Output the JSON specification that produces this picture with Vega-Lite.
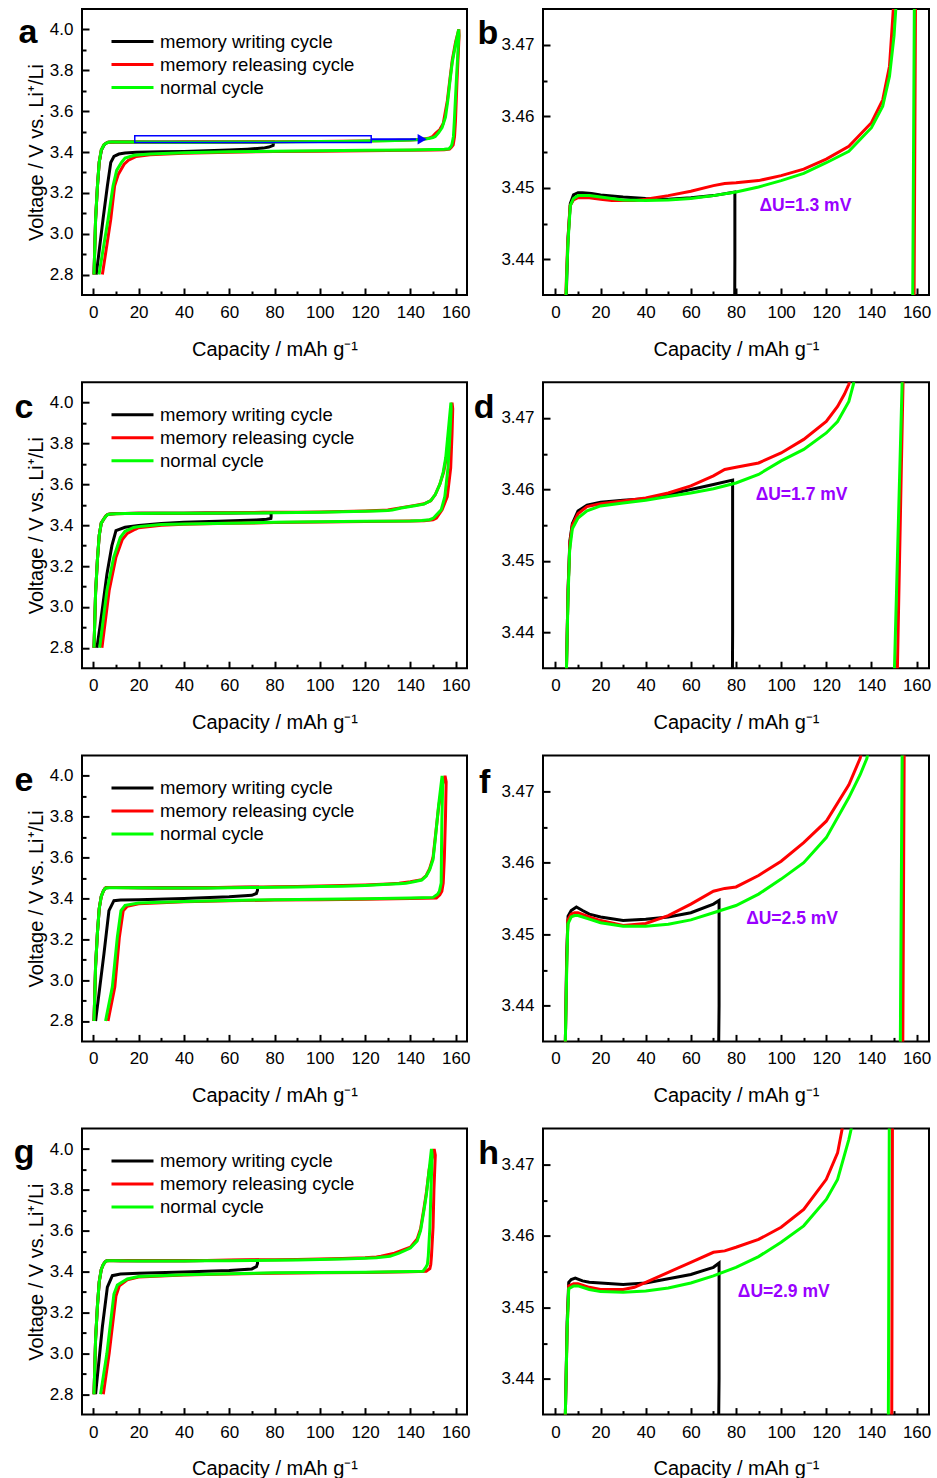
{
"$schema": "https://vega.github.io/schema/vega-lite/v6.json",
"padding": {"left": 12, "top": 8, "right": 5, "bottom": 2},
"config": {
 "font": "Liberation Sans",
 "view": {"stroke": "black", "strokeWidth": 2},
 "axis": {"domain": false, "grid": false, "tickSize": -7, "tickWidth": 2, "tickColor": "black", "labelFontSize": 17, "labelColor": "black", "labelFont": "Liberation Sans", "titleFont": "Liberation Sans", "titleFontSize": 20, "titleFontWeight": "normal", "titleColor": "black", "labelFlush": false, "labelOverlap": false},
 "axisX": {"labelPadding": 16.5, "titlePadding": 18.6},
 "axisY": {"labelPadding": 16, "titlePadding": 3},
 "legend": {"orient": "none", "legendX": 28, "legendY": 22.5, "title": null, "symbolType": "stroke", "symbolSize": 1764, "symbolStrokeWidth": 3, "labelFontSize": 18.5, "labelFont": "Liberation Sans", "labelColor": "black", "labelOffset": 5, "clipHeight": 20, "rowPadding": 3, "labelLimit": 0, "padding": 0}
},
"datasets": {
 "r1": [
  {"cyc":"W","cap":0.3,"v":2.8},{"cyc":"W","cap":1.0,"v":3.07},{"cyc":"W","cap":1.8,"v":3.23},{"cyc":"W","cap":2.6,"v":3.35},{"cyc":"W","cap":3.6,"v":3.41},{"cyc":"W","cap":4.8,"v":3.435},{"cyc":"W","cap":5.6,"v":3.443},{"cyc":"W","cap":6.6,"v":3.4478},{"cyc":"W","cap":8,"v":3.449},{"cyc":"W","cap":10,"v":3.4493},{"cyc":"W","cap":12,"v":3.4493},{"cyc":"W","cap":16,"v":3.4492},{"cyc":"W","cap":20,"v":3.449},{"cyc":"W","cap":30,"v":3.4487},{"cyc":"W","cap":40,"v":3.4485},{"cyc":"W","cap":50,"v":3.4484},{"cyc":"W","cap":60,"v":3.4486},{"cyc":"W","cap":70,"v":3.4489},{"cyc":"W","cap":79.5,"v":3.4494},
  {"cyc":"W","cap":79.5,"v":3.44},{"cyc":"W","cap":79.4,"v":3.432},{"cyc":"W","cap":77.5,"v":3.424},{"cyc":"W","cap":75,"v":3.419},{"cyc":"W","cap":68,"v":3.414},{"cyc":"W","cap":60,"v":3.41},{"cyc":"W","cap":50,"v":3.406},{"cyc":"W","cap":40,"v":3.4025},{"cyc":"W","cap":30,"v":3.401},{"cyc":"W","cap":19,"v":3.399},{"cyc":"W","cap":14,"v":3.395},{"cyc":"W","cap":11.3,"v":3.39},{"cyc":"W","cap":9.1,"v":3.378},{"cyc":"W","cap":7.7,"v":3.349},{"cyc":"W","cap":6.2,"v":3.234},{"cyc":"W","cap":4.3,"v":3.072},{"cyc":"W","cap":1.3,"v":2.8},
  {"cyc":"R","cap":0.3,"v":2.8},{"cyc":"R","cap":1.0,"v":3.07},{"cyc":"R","cap":1.8,"v":3.23},{"cyc":"R","cap":2.6,"v":3.35},{"cyc":"R","cap":3.5,"v":3.41},{"cyc":"R","cap":4.6,"v":3.435},{"cyc":"R","cap":5.4,"v":3.442},{"cyc":"R","cap":6.5,"v":3.4475},{"cyc":"R","cap":8,"v":3.4483},{"cyc":"R","cap":10,"v":3.4486},{"cyc":"R","cap":15,"v":3.4486},{"cyc":"R","cap":20,"v":3.4484},{"cyc":"R","cap":25,"v":3.4482},{"cyc":"R","cap":35,"v":3.4482},{"cyc":"R","cap":40,"v":3.4484},{"cyc":"R","cap":50,"v":3.4489},{"cyc":"R","cap":60,"v":3.4495},{"cyc":"R","cap":70,"v":3.4503},{"cyc":"R","cap":75,"v":3.4506},{"cyc":"R","cap":80,"v":3.4507},{"cyc":"R","cap":90,"v":3.451},{"cyc":"R","cap":100,"v":3.4517},{"cyc":"R","cap":110,"v":3.4526},{"cyc":"R","cap":120,"v":3.454},{"cyc":"R","cap":130,"v":3.4558},{"cyc":"R","cap":140,"v":3.4591},{"cyc":"R","cap":145,"v":3.4623},{"cyc":"R","cap":148,"v":3.467},{"cyc":"R","cap":149.7,"v":3.475},{"cyc":"R","cap":151,"v":3.49},{"cyc":"R","cap":153,"v":3.51},{"cyc":"R","cap":154.5,"v":3.54},{"cyc":"R","cap":156.3,"v":3.65},{"cyc":"R","cap":157.5,"v":3.76},{"cyc":"R","cap":158.5,"v":3.85},{"cyc":"R","cap":160,"v":3.94},{"cyc":"R","cap":161.4,"v":4.0},
  {"cyc":"R","cap":161.5,"v":3.97},{"cyc":"R","cap":160.6,"v":3.75},{"cyc":"R","cap":159.9,"v":3.55},{"cyc":"R","cap":159.5,"v":3.475},{"cyc":"R","cap":158.9,"v":3.435},{"cyc":"R","cap":158.2,"v":3.424},{"cyc":"R","cap":157.3,"v":3.414},{"cyc":"R","cap":155,"v":3.411},{"cyc":"R","cap":150,"v":3.41},{"cyc":"R","cap":140,"v":3.408},{"cyc":"R","cap":120,"v":3.406},{"cyc":"R","cap":100,"v":3.404},{"cyc":"R","cap":80,"v":3.402},{"cyc":"R","cap":60,"v":3.399},{"cyc":"R","cap":40,"v":3.394},{"cyc":"R","cap":25,"v":3.386},{"cyc":"R","cap":19,"v":3.378},{"cyc":"R","cap":15.5,"v":3.36},{"cyc":"R","cap":13.6,"v":3.34},{"cyc":"R","cap":11,"v":3.29},{"cyc":"R","cap":9.4,"v":3.234},{"cyc":"R","cap":7.7,"v":3.07},{"cyc":"R","cap":4,"v":2.8},
  {"cyc":"N","cap":0.3,"v":2.8},{"cyc":"N","cap":1.0,"v":3.07},{"cyc":"N","cap":1.8,"v":3.23},{"cyc":"N","cap":2.6,"v":3.35},{"cyc":"N","cap":3.5,"v":3.41},{"cyc":"N","cap":4.7,"v":3.435},{"cyc":"N","cap":5.5,"v":3.442},{"cyc":"N","cap":6.6,"v":3.4475},{"cyc":"N","cap":8,"v":3.4485},{"cyc":"N","cap":10,"v":3.4489},{"cyc":"N","cap":15,"v":3.4489},{"cyc":"N","cap":20,"v":3.4487},{"cyc":"N","cap":30,"v":3.4483},{"cyc":"N","cap":40,"v":3.4482},{"cyc":"N","cap":50,"v":3.4483},{"cyc":"N","cap":60,"v":3.4485},{"cyc":"N","cap":70,"v":3.4489},{"cyc":"N","cap":80,"v":3.4494},{"cyc":"N","cap":90,"v":3.4501},{"cyc":"N","cap":100,"v":3.451},{"cyc":"N","cap":110,"v":3.452},{"cyc":"N","cap":120,"v":3.4535},{"cyc":"N","cap":130,"v":3.4551},{"cyc":"N","cap":140,"v":3.4584},{"cyc":"N","cap":145,"v":3.4614},{"cyc":"N","cap":148,"v":3.4656},{"cyc":"N","cap":150,"v":3.4712},{"cyc":"N","cap":151,"v":3.476},{"cyc":"N","cap":152.5,"v":3.495},{"cyc":"N","cap":154,"v":3.52},{"cyc":"N","cap":155.5,"v":3.57},{"cyc":"N","cap":156.5,"v":3.65},{"cyc":"N","cap":157.5,"v":3.75},{"cyc":"N","cap":158.5,"v":3.84},{"cyc":"N","cap":160,"v":3.93},{"cyc":"N","cap":161.3,"v":4.0},
  {"cyc":"N","cap":161.4,"v":3.97},{"cyc":"N","cap":160.3,"v":3.75},{"cyc":"N","cap":159.4,"v":3.55},{"cyc":"N","cap":159,"v":3.475},{"cyc":"N","cap":158.3,"v":3.435},{"cyc":"N","cap":157.8,"v":3.425},{"cyc":"N","cap":157,"v":3.416},{"cyc":"N","cap":155,"v":3.413},{"cyc":"N","cap":150,"v":3.412},{"cyc":"N","cap":140,"v":3.41},{"cyc":"N","cap":120,"v":3.408},{"cyc":"N","cap":100,"v":3.406},{"cyc":"N","cap":80,"v":3.404},{"cyc":"N","cap":60,"v":3.401},{"cyc":"N","cap":40,"v":3.396},{"cyc":"N","cap":25,"v":3.39},{"cyc":"N","cap":18,"v":3.384},{"cyc":"N","cap":14,"v":3.37},{"cyc":"N","cap":12.5,"v":3.35},{"cyc":"N","cap":10.3,"v":3.31},{"cyc":"N","cap":8.7,"v":3.234},{"cyc":"N","cap":6.5,"v":3.07},{"cyc":"N","cap":2.5,"v":2.8}
 ],
 "r2": [
  {"cyc":"W","cap":0.3,"v":2.8},{"cyc":"W","cap":1.0,"v":3.07},{"cyc":"W","cap":1.8,"v":3.23},{"cyc":"W","cap":2.6,"v":3.35},{"cyc":"W","cap":3.5,"v":3.41},{"cyc":"W","cap":4.9,"v":3.435},{"cyc":"W","cap":5.6,"v":3.446},{"cyc":"W","cap":6.4,"v":3.4528},{"cyc":"W","cap":7.5,"v":3.4552},{"cyc":"W","cap":10,"v":3.457},{"cyc":"W","cap":14,"v":3.4578},{"cyc":"W","cap":20,"v":3.4582},{"cyc":"W","cap":30,"v":3.4585},{"cyc":"W","cap":40,"v":3.4587},{"cyc":"W","cap":50,"v":3.4593},{"cyc":"W","cap":60,"v":3.46},{"cyc":"W","cap":70,"v":3.4607},{"cyc":"W","cap":78.5,"v":3.4613},
  {"cyc":"W","cap":78.5,"v":3.44},{"cyc":"W","cap":78.4,"v":3.433},{"cyc":"W","cap":76.5,"v":3.429},{"cyc":"W","cap":72,"v":3.426},{"cyc":"W","cap":65,"v":3.423},{"cyc":"W","cap":55,"v":3.419},{"cyc":"W","cap":40,"v":3.414},{"cyc":"W","cap":30,"v":3.408},{"cyc":"W","cap":20,"v":3.398},{"cyc":"W","cap":14,"v":3.39},{"cyc":"W","cap":10,"v":3.373},{"cyc":"W","cap":8.2,"v":3.3},{"cyc":"W","cap":6,"v":3.16},{"cyc":"W","cap":3.1,"v":2.917},{"cyc":"W","cap":1.6,"v":2.8},
  {"cyc":"R","cap":0.3,"v":2.8},{"cyc":"R","cap":1.0,"v":3.07},{"cyc":"R","cap":1.8,"v":3.23},{"cyc":"R","cap":2.6,"v":3.35},{"cyc":"R","cap":3.5,"v":3.41},{"cyc":"R","cap":4.9,"v":3.435},{"cyc":"R","cap":5.6,"v":3.446},{"cyc":"R","cap":6.4,"v":3.4525},{"cyc":"R","cap":7.5,"v":3.455},{"cyc":"R","cap":10,"v":3.4566},{"cyc":"R","cap":14,"v":3.4576},{"cyc":"R","cap":20,"v":3.458},{"cyc":"R","cap":30,"v":3.4584},{"cyc":"R","cap":40,"v":3.4588},{"cyc":"R","cap":50,"v":3.4595},{"cyc":"R","cap":60,"v":3.4605},{"cyc":"R","cap":70,"v":3.4619},{"cyc":"R","cap":75,"v":3.4628},{"cyc":"R","cap":80,"v":3.4631},{"cyc":"R","cap":90,"v":3.4637},{"cyc":"R","cap":100,"v":3.4651},{"cyc":"R","cap":110,"v":3.467},{"cyc":"R","cap":120,"v":3.4695},{"cyc":"R","cap":125,"v":3.4716},{"cyc":"R","cap":128,"v":3.4733},{"cyc":"R","cap":130,"v":3.4747},{"cyc":"R","cap":136,"v":3.486},{"cyc":"R","cap":142,"v":3.497},{"cyc":"R","cap":146,"v":3.505},{"cyc":"R","cap":149,"v":3.52},{"cyc":"R","cap":151,"v":3.55},{"cyc":"R","cap":153,"v":3.6},{"cyc":"R","cap":154.7,"v":3.66},{"cyc":"R","cap":156,"v":3.74},{"cyc":"R","cap":157.4,"v":3.9},{"cyc":"R","cap":158.4,"v":4.0},
  {"cyc":"R","cap":158.7,"v":3.97},{"cyc":"R","cap":158.4,"v":3.85},{"cyc":"R","cap":157.8,"v":3.68},{"cyc":"R","cap":156.3,"v":3.54},{"cyc":"R","cap":154,"v":3.475},{"cyc":"R","cap":151.5,"v":3.435},{"cyc":"R","cap":150,"v":3.427},{"cyc":"R","cap":146,"v":3.422},{"cyc":"R","cap":140,"v":3.42},{"cyc":"R","cap":120,"v":3.418},{"cyc":"R","cap":100,"v":3.416},{"cyc":"R","cap":80,"v":3.413},{"cyc":"R","cap":60,"v":3.409},{"cyc":"R","cap":40,"v":3.405},{"cyc":"R","cap":30,"v":3.4},{"cyc":"R","cap":20,"v":3.388},{"cyc":"R","cap":18.5,"v":3.38},{"cyc":"R","cap":15,"v":3.36},{"cyc":"R","cap":12.8,"v":3.33},{"cyc":"R","cap":10,"v":3.243},{"cyc":"R","cap":7,"v":3.08},{"cyc":"R","cap":3.8,"v":2.8},
  {"cyc":"N","cap":0.3,"v":2.8},{"cyc":"N","cap":1.0,"v":3.07},{"cyc":"N","cap":1.8,"v":3.23},{"cyc":"N","cap":2.6,"v":3.35},{"cyc":"N","cap":3.5,"v":3.41},{"cyc":"N","cap":4.9,"v":3.435},{"cyc":"N","cap":5.6,"v":3.445},{"cyc":"N","cap":6.3,"v":3.4515},{"cyc":"N","cap":7.5,"v":3.4545},{"cyc":"N","cap":10,"v":3.456},{"cyc":"N","cap":14,"v":3.457},{"cyc":"N","cap":20,"v":3.4577},{"cyc":"N","cap":30,"v":3.4581},{"cyc":"N","cap":40,"v":3.4585},{"cyc":"N","cap":50,"v":3.459},{"cyc":"N","cap":60,"v":3.4595},{"cyc":"N","cap":70,"v":3.4601},{"cyc":"N","cap":80,"v":3.4609},{"cyc":"N","cap":90,"v":3.4621},{"cyc":"N","cap":100,"v":3.464},{"cyc":"N","cap":110,"v":3.4656},{"cyc":"N","cap":120,"v":3.4679},{"cyc":"N","cap":125,"v":3.4695},{"cyc":"N","cap":130,"v":3.4723},{"cyc":"N","cap":132,"v":3.4747},{"cyc":"N","cap":136,"v":3.484},{"cyc":"N","cap":142,"v":3.495},{"cyc":"N","cap":146,"v":3.503},{"cyc":"N","cap":149,"v":3.52},{"cyc":"N","cap":151,"v":3.55},{"cyc":"N","cap":153,"v":3.6},{"cyc":"N","cap":154.5,"v":3.66},{"cyc":"N","cap":155.6,"v":3.73},{"cyc":"N","cap":157,"v":3.894},{"cyc":"N","cap":157.9,"v":4.0},
  {"cyc":"N","cap":158,"v":3.97},{"cyc":"N","cap":157.5,"v":3.85},{"cyc":"N","cap":156.6,"v":3.68},{"cyc":"N","cap":155.2,"v":3.54},{"cyc":"N","cap":153.6,"v":3.475},{"cyc":"N","cap":150.2,"v":3.435},{"cyc":"N","cap":148.5,"v":3.427},{"cyc":"N","cap":145,"v":3.423},{"cyc":"N","cap":140,"v":3.421},{"cyc":"N","cap":120,"v":3.419},{"cyc":"N","cap":100,"v":3.417},{"cyc":"N","cap":80,"v":3.414},{"cyc":"N","cap":60,"v":3.41},{"cyc":"N","cap":40,"v":3.406},{"cyc":"N","cap":30,"v":3.403},{"cyc":"N","cap":20,"v":3.393},{"cyc":"N","cap":17.8,"v":3.389},{"cyc":"N","cap":14,"v":3.37},{"cyc":"N","cap":11.9,"v":3.34},{"cyc":"N","cap":9,"v":3.243},{"cyc":"N","cap":6,"v":3.08},{"cyc":"N","cap":2.8,"v":2.8}
 ],
 "r3": [
  {"cyc":"W","cap":0.3,"v":2.8},{"cyc":"W","cap":1.0,"v":3.07},{"cyc":"W","cap":1.8,"v":3.23},{"cyc":"W","cap":2.6,"v":3.35},{"cyc":"W","cap":3.5,"v":3.41},{"cyc":"W","cap":4.4,"v":3.435},{"cyc":"W","cap":5,"v":3.447},{"cyc":"W","cap":5.6,"v":3.4525},{"cyc":"W","cap":7,"v":3.4533},{"cyc":"W","cap":9.3,"v":3.4538},{"cyc":"W","cap":12,"v":3.4533},{"cyc":"W","cap":15,"v":3.4528},{"cyc":"W","cap":20,"v":3.4524},{"cyc":"W","cap":30,"v":3.4519},{"cyc":"W","cap":40,"v":3.4521},{"cyc":"W","cap":50,"v":3.4524},{"cyc":"W","cap":60,"v":3.453},{"cyc":"W","cap":70,"v":3.4542},{"cyc":"W","cap":72.5,"v":3.4547},
  {"cyc":"W","cap":72.5,"v":3.44},{"cyc":"W","cap":72,"v":3.424},{"cyc":"W","cap":70,"v":3.415},{"cyc":"W","cap":60,"v":3.408},{"cyc":"W","cap":40,"v":3.4},{"cyc":"W","cap":20,"v":3.394},{"cyc":"W","cap":12,"v":3.392},{"cyc":"W","cap":9.1,"v":3.389},{"cyc":"W","cap":6.9,"v":3.34},{"cyc":"W","cap":4.7,"v":3.13},{"cyc":"W","cap":1,"v":2.8},
  {"cyc":"R","cap":0.3,"v":2.8},{"cyc":"R","cap":1.0,"v":3.07},{"cyc":"R","cap":1.8,"v":3.23},{"cyc":"R","cap":2.6,"v":3.35},{"cyc":"R","cap":3.5,"v":3.41},{"cyc":"R","cap":4.4,"v":3.435},{"cyc":"R","cap":5,"v":3.446},{"cyc":"R","cap":5.5,"v":3.452},{"cyc":"R","cap":7,"v":3.4528},{"cyc":"R","cap":8.5,"v":3.453},{"cyc":"R","cap":10,"v":3.453},{"cyc":"R","cap":15,"v":3.4524},{"cyc":"R","cap":20,"v":3.4519},{"cyc":"R","cap":30,"v":3.4512},{"cyc":"R","cap":40,"v":3.4515},{"cyc":"R","cap":50,"v":3.4526},{"cyc":"R","cap":60,"v":3.4542},{"cyc":"R","cap":70,"v":3.456},{"cyc":"R","cap":75,"v":3.4564},{"cyc":"R","cap":80,"v":3.4566},{"cyc":"R","cap":90,"v":3.4582},{"cyc":"R","cap":100,"v":3.4602},{"cyc":"R","cap":110,"v":3.4628},{"cyc":"R","cap":120,"v":3.4658},{"cyc":"R","cap":130,"v":3.4709},{"cyc":"R","cap":135,"v":3.4746},{"cyc":"R","cap":140,"v":3.482},{"cyc":"R","cap":145,"v":3.492},{"cyc":"R","cap":147,"v":3.512},{"cyc":"R","cap":148.5,"v":3.545},{"cyc":"R","cap":150,"v":3.6},{"cyc":"R","cap":151,"v":3.7},{"cyc":"R","cap":152.5,"v":3.85},{"cyc":"R","cap":154,"v":3.95},{"cyc":"R","cap":155.3,"v":4.0},
  {"cyc":"R","cap":155.8,"v":3.97},{"cyc":"R","cap":155.5,"v":3.8},{"cyc":"R","cap":155,"v":3.6},{"cyc":"R","cap":154.5,"v":3.475},{"cyc":"R","cap":153.9,"v":3.435},{"cyc":"R","cap":153,"v":3.418},{"cyc":"R","cap":151.5,"v":3.402},{"cyc":"R","cap":140,"v":3.4},{"cyc":"R","cap":120,"v":3.396},{"cyc":"R","cap":100,"v":3.394},{"cyc":"R","cap":80,"v":3.392},{"cyc":"R","cap":60,"v":3.388},{"cyc":"R","cap":40,"v":3.383},{"cyc":"R","cap":20,"v":3.374},{"cyc":"R","cap":15,"v":3.362},{"cyc":"R","cap":13.2,"v":3.34},{"cyc":"R","cap":11.5,"v":3.21},{"cyc":"R","cap":9.5,"v":2.967},{"cyc":"R","cap":6.5,"v":2.8},
  {"cyc":"N","cap":0.3,"v":2.8},{"cyc":"N","cap":1.0,"v":3.07},{"cyc":"N","cap":1.8,"v":3.23},{"cyc":"N","cap":2.6,"v":3.35},{"cyc":"N","cap":3.5,"v":3.41},{"cyc":"N","cap":4.4,"v":3.435},{"cyc":"N","cap":5,"v":3.445},{"cyc":"N","cap":5.5,"v":3.4514},{"cyc":"N","cap":7,"v":3.4524},{"cyc":"N","cap":8.5,"v":3.4526},{"cyc":"N","cap":10,"v":3.4526},{"cyc":"N","cap":15,"v":3.4521},{"cyc":"N","cap":20,"v":3.4516},{"cyc":"N","cap":30,"v":3.4511},{"cyc":"N","cap":40,"v":3.4511},{"cyc":"N","cap":50,"v":3.4514},{"cyc":"N","cap":60,"v":3.452},{"cyc":"N","cap":70,"v":3.453},{"cyc":"N","cap":80,"v":3.454},{"cyc":"N","cap":90,"v":3.4556},{"cyc":"N","cap":100,"v":3.4577},{"cyc":"N","cap":110,"v":3.46},{"cyc":"N","cap":120,"v":3.4635},{"cyc":"N","cap":130,"v":3.4691},{"cyc":"N","cap":135,"v":3.4723},{"cyc":"N","cap":138,"v":3.4746},{"cyc":"N","cap":141,"v":3.48},{"cyc":"N","cap":145,"v":3.49},{"cyc":"N","cap":147,"v":3.51},{"cyc":"N","cap":148.5,"v":3.54},{"cyc":"N","cap":150,"v":3.59},{"cyc":"N","cap":151,"v":3.69},{"cyc":"N","cap":152.5,"v":3.86},{"cyc":"N","cap":154,"v":4.0},
  {"cyc":"N","cap":154.3,"v":3.97},{"cyc":"N","cap":153.9,"v":3.78},{"cyc":"N","cap":153.7,"v":3.6},{"cyc":"N","cap":153.6,"v":3.475},{"cyc":"N","cap":152.8,"v":3.435},{"cyc":"N","cap":152,"v":3.42},{"cyc":"N","cap":150,"v":3.405},{"cyc":"N","cap":140,"v":3.402},{"cyc":"N","cap":120,"v":3.398},{"cyc":"N","cap":100,"v":3.396},{"cyc":"N","cap":80,"v":3.394},{"cyc":"N","cap":60,"v":3.39},{"cyc":"N","cap":40,"v":3.385},{"cyc":"N","cap":20,"v":3.377},{"cyc":"N","cap":14,"v":3.366},{"cyc":"N","cap":12.2,"v":3.34},{"cyc":"N","cap":10.6,"v":3.21},{"cyc":"N","cap":8.4,"v":2.967},{"cyc":"N","cap":5.4,"v":2.8}
 ],
 "r4": [
  {"cyc":"W","cap":0.3,"v":2.8},{"cyc":"W","cap":1.0,"v":3.07},{"cyc":"W","cap":1.8,"v":3.23},{"cyc":"W","cap":2.6,"v":3.35},{"cyc":"W","cap":3.5,"v":3.41},{"cyc":"W","cap":4.4,"v":3.435},{"cyc":"W","cap":5.2,"v":3.448},{"cyc":"W","cap":5.9,"v":3.4535},{"cyc":"W","cap":7,"v":3.4539},{"cyc":"W","cap":8.8,"v":3.4541},{"cyc":"W","cap":12,"v":3.4537},{"cyc":"W","cap":15,"v":3.4535},{"cyc":"W","cap":20,"v":3.4534},{"cyc":"W","cap":30,"v":3.4532},{"cyc":"W","cap":40,"v":3.4534},{"cyc":"W","cap":50,"v":3.454},{"cyc":"W","cap":60,"v":3.4546},{"cyc":"W","cap":70,"v":3.4556},{"cyc":"W","cap":72.5,"v":3.4562},
  {"cyc":"W","cap":72.5,"v":3.44},{"cyc":"W","cap":72,"v":3.424},{"cyc":"W","cap":70,"v":3.413},{"cyc":"W","cap":60,"v":3.405},{"cyc":"W","cap":40,"v":3.398},{"cyc":"W","cap":20,"v":3.392},{"cyc":"W","cap":12,"v":3.388},{"cyc":"W","cap":8.4,"v":3.38},{"cyc":"W","cap":6.2,"v":3.324},{"cyc":"W","cap":4,"v":3.13},{"cyc":"W","cap":1,"v":2.8},
  {"cyc":"R","cap":0.3,"v":2.8},{"cyc":"R","cap":1.0,"v":3.07},{"cyc":"R","cap":1.8,"v":3.23},{"cyc":"R","cap":2.6,"v":3.35},{"cyc":"R","cap":3.5,"v":3.41},{"cyc":"R","cap":4.4,"v":3.435},{"cyc":"R","cap":5.2,"v":3.447},{"cyc":"R","cap":5.9,"v":3.453},{"cyc":"R","cap":8.1,"v":3.4533},{"cyc":"R","cap":10,"v":3.4533},{"cyc":"R","cap":15,"v":3.4528},{"cyc":"R","cap":20,"v":3.4525},{"cyc":"R","cap":30,"v":3.4525},{"cyc":"R","cap":35,"v":3.4528},{"cyc":"R","cap":40,"v":3.4535},{"cyc":"R","cap":50,"v":3.4549},{"cyc":"R","cap":60,"v":3.4563},{"cyc":"R","cap":70,"v":3.4577},{"cyc":"R","cap":75,"v":3.4579},{"cyc":"R","cap":80,"v":3.4584},{"cyc":"R","cap":90,"v":3.4595},{"cyc":"R","cap":100,"v":3.4612},{"cyc":"R","cap":110,"v":3.4637},{"cyc":"R","cap":120,"v":3.4679},{"cyc":"R","cap":125,"v":3.4716},{"cyc":"R","cap":127,"v":3.4749},{"cyc":"R","cap":133,"v":3.49},{"cyc":"R","cap":140,"v":3.52},{"cyc":"R","cap":143,"v":3.56},{"cyc":"R","cap":144.5,"v":3.61},{"cyc":"R","cap":146,"v":3.71},{"cyc":"R","cap":147.1,"v":3.79},{"cyc":"R","cap":148.3,"v":3.9},{"cyc":"R","cap":150.5,"v":4.0},
  {"cyc":"R","cap":151,"v":3.97},{"cyc":"R","cap":150.4,"v":3.8},{"cyc":"R","cap":150,"v":3.616},{"cyc":"R","cap":149.3,"v":3.475},{"cyc":"R","cap":149,"v":3.435},{"cyc":"R","cap":148.6,"v":3.415},{"cyc":"R","cap":147,"v":3.402},{"cyc":"R","cap":140,"v":3.399},{"cyc":"R","cap":120,"v":3.396},{"cyc":"R","cap":100,"v":3.394},{"cyc":"R","cap":80,"v":3.392},{"cyc":"R","cap":60,"v":3.388},{"cyc":"R","cap":40,"v":3.383},{"cyc":"R","cap":20,"v":3.373},{"cyc":"R","cap":15,"v":3.36},{"cyc":"R","cap":11.5,"v":3.33},{"cyc":"R","cap":10,"v":3.28},{"cyc":"R","cap":7,"v":3.0},{"cyc":"R","cap":4.4,"v":2.8},
  {"cyc":"N","cap":0.3,"v":2.8},{"cyc":"N","cap":1.0,"v":3.07},{"cyc":"N","cap":1.8,"v":3.23},{"cyc":"N","cap":2.6,"v":3.35},{"cyc":"N","cap":3.5,"v":3.41},{"cyc":"N","cap":4.4,"v":3.435},{"cyc":"N","cap":5.2,"v":3.447},{"cyc":"N","cap":5.9,"v":3.4526},{"cyc":"N","cap":8.1,"v":3.453},{"cyc":"N","cap":10,"v":3.453},{"cyc":"N","cap":15,"v":3.4525},{"cyc":"N","cap":20,"v":3.4522},{"cyc":"N","cap":30,"v":3.4521},{"cyc":"N","cap":40,"v":3.4523},{"cyc":"N","cap":50,"v":3.4527},{"cyc":"N","cap":60,"v":3.4534},{"cyc":"N","cap":70,"v":3.4544},{"cyc":"N","cap":80,"v":3.4556},{"cyc":"N","cap":90,"v":3.4571},{"cyc":"N","cap":100,"v":3.4591},{"cyc":"N","cap":110,"v":3.4614},{"cyc":"N","cap":120,"v":3.4651},{"cyc":"N","cap":125,"v":3.4679},{"cyc":"N","cap":130,"v":3.4735},{"cyc":"N","cap":131,"v":3.4749},{"cyc":"N","cap":135,"v":3.49},{"cyc":"N","cap":140,"v":3.515},{"cyc":"N","cap":143,"v":3.55},{"cyc":"N","cap":144.5,"v":3.6},{"cyc":"N","cap":146,"v":3.7},{"cyc":"N","cap":147.1,"v":3.78},{"cyc":"N","cap":148.3,"v":3.9},{"cyc":"N","cap":149.3,"v":4.0},
  {"cyc":"N","cap":149.6,"v":3.97},{"cyc":"N","cap":149.1,"v":3.8},{"cyc":"N","cap":148.6,"v":3.616},{"cyc":"N","cap":147.9,"v":3.475},{"cyc":"N","cap":147.5,"v":3.435},{"cyc":"N","cap":146.8,"v":3.42},{"cyc":"N","cap":145.6,"v":3.402},{"cyc":"N","cap":140,"v":3.4},{"cyc":"N","cap":120,"v":3.397},{"cyc":"N","cap":100,"v":3.396},{"cyc":"N","cap":80,"v":3.394},{"cyc":"N","cap":60,"v":3.39},{"cyc":"N","cap":40,"v":3.385},{"cyc":"N","cap":20,"v":3.376},{"cyc":"N","cap":15,"v":3.364},{"cyc":"N","cap":10.6,"v":3.334},{"cyc":"N","cap":9.1,"v":3.29},{"cyc":"N","cap":6,"v":3.0},{"cyc":"N","cap":3.2,"v":2.8}
 ]
},
"vconcat": [
 {"hconcat": [
  {"width": 385, "height": 286, "resolve": {"axis": {"x": "independent", "y": "independent"}}, "layer": [
   {"data": {"name": "r1"}, "transform": [{"window": [{"op": "row_number", "as": "i"}]}], "mark": {"type": "line", "strokeWidth": 3, "clip": true},
    "encoding": {
     "x": {"field": "cap", "type": "quantitative", "scale": {"domain": [-5, 165], "nice": false, "zero": false}, "axis": {"orient": "bottom", "values": [0,20,40,60,80,100,120,140,160], "title": "Capacity / mAh g⁻¹"}},
     "y": {"field": "v", "type": "quantitative", "scale": {"domain": [2.7, 4.1], "nice": false, "zero": false}, "axis": {"orient": "left", "values": [2.8,3.0,3.2,3.4,3.6,3.8,4.0], "format": ".1f", "title": "Voltage / V vs. Li⁺/Li"}},
     "color": {"field": "cyc", "type": "nominal", "scale": {"domain": ["W","R","N"], "range": ["#000000","#ff0000","#00ff00"]}, "legend": {"labelExpr": "datum.label == 'W' ? 'memory writing cycle' : datum.label == 'R' ? 'memory releasing cycle' : 'normal cycle'"}},
     "order": {"field": "i", "type": "quantitative"}}},
   {"data": {"values": [{"t": "a"}]}, "mark": {"type": "text", "fontSize": 34, "fontWeight": "bold", "align": "center", "baseline": "alphabetic", "color": "black"},
    "encoding": {
     "x": {"datum": -28.9, "type": "quantitative", "axis": {"orient": "bottom", "values": [10,30,50,70,90,110,130,150], "labels": false, "tickSize": -4, "title": null}},
     "y": {"datum": 3.932, "type": "quantitative", "axis": {"orient": "left", "values": [2.9,3.1,3.3,3.5,3.7,3.9], "labels": false, "tickSize": -4, "title": null}},
     "text": {"field": "t"}}},
   {"data": {"values": [{}]}, "mark": {"type": "rect", "fillOpacity": 0, "stroke": "#0000ff", "strokeWidth": 1.5},
    "encoding": {"x": {"datum": 18.3, "type": "quantitative", "axis": null}, "x2": {"datum": 122.7}, "y": {"datum": 3.479, "type": "quantitative", "axis": null}, "y2": {"datum": 3.4465}}},
   {"data": {"values": [{}]}, "mark": {"type": "rule", "color": "#0000ff", "strokeWidth": 2},
    "encoding": {"x": {"datum": 122.7, "type": "quantitative", "axis": null}, "x2": {"datum": 142.5}, "y": {"datum": 3.4626, "type": "quantitative", "axis": null}}},
   {"data": {"values": [{}]}, "mark": {"type": "point", "shape": "triangle-right", "filled": true, "color": "#0000ff", "size": 110, "opacity": 1},
    "encoding": {"x": {"datum": 145.2, "type": "quantitative", "axis": null}, "y": {"datum": 3.4626, "type": "quantitative", "axis": null}}}
  ]},
  {"width": 386, "height": 286, "resolve": {"axis": {"x": "independent", "y": "independent"}}, "layer": [
   {"data": {"name": "r1"}, "transform": [{"window": [{"op": "row_number", "as": "i"}]}], "mark": {"type": "line", "strokeWidth": 3, "clip": true},
    "encoding": {
     "x": {"field": "cap", "type": "quantitative", "scale": {"domain": [-5.5, 165.5], "nice": false, "zero": false}, "axis": {"orient": "bottom", "values": [0,20,40,60,80,100,120,140,160], "title": "Capacity / mAh g⁻¹"}},
     "y": {"field": "v", "type": "quantitative", "scale": {"domain": [3.435, 3.475], "nice": false, "zero": false}, "axis": {"orient": "left", "values": [3.44,3.45,3.46,3.47], "format": ".2f", "title": null}},
     "color": {"field": "cyc", "type": "nominal", "scale": {"domain": ["W","R","N"], "range": ["#000000","#ff0000","#00ff00"]}, "legend": null},
     "order": {"field": "i", "type": "quantitative"}}},
   {"data": {"values": [{"t": "b"}]}, "mark": {"type": "text", "fontSize": 34, "fontWeight": "bold", "align": "center", "baseline": "alphabetic", "color": "black"},
    "encoding": {
     "x": {"datum": -29.9, "type": "quantitative", "axis": {"orient": "bottom", "values": [10,30,50,70,90,110,130,150], "labels": false, "tickSize": -4, "title": null}},
     "y": {"datum": 3.4701, "type": "quantitative", "axis": {"orient": "left", "values": [3.445,3.455,3.465], "labels": false, "tickSize": -4, "title": null}},
     "text": {"field": "t"}}},
   {"data": {"values": [{"t": "ΔU=1.3 mV"}]}, "mark": {"type": "text", "fontSize": 17.5, "fontWeight": "bold", "align": "left", "baseline": "middle", "color": "#9900ff"},
    "encoding": {"x": {"datum": 90.4, "type": "quantitative", "axis": null}, "y": {"datum": 3.4474, "type": "quantitative", "axis": null}, "text": {"field": "t"}}}
  ]}
 ], "spacing": 76, "bounds": "flush", "resolve": {"scale": {"color": "independent"}, "legend": {"color": "independent"}}},
 {"hconcat": [
  {"width": 385, "height": 286, "resolve": {"axis": {"x": "independent", "y": "independent"}}, "layer": [
   {"data": {"name": "r2"}, "transform": [{"window": [{"op": "row_number", "as": "i"}]}], "mark": {"type": "line", "strokeWidth": 3, "clip": true},
    "encoding": {
     "x": {"field": "cap", "type": "quantitative", "scale": {"domain": [-5, 165], "nice": false, "zero": false}, "axis": {"orient": "bottom", "values": [0,20,40,60,80,100,120,140,160], "title": "Capacity / mAh g⁻¹"}},
     "y": {"field": "v", "type": "quantitative", "scale": {"domain": [2.7, 4.1], "nice": false, "zero": false}, "axis": {"orient": "left", "values": [2.8,3.0,3.2,3.4,3.6,3.8,4.0], "format": ".1f", "title": "Voltage / V vs. Li⁺/Li"}},
     "color": {"field": "cyc", "type": "nominal", "scale": {"domain": ["W","R","N"], "range": ["#000000","#ff0000","#00ff00"]}, "legend": {"labelExpr": "datum.label == 'W' ? 'memory writing cycle' : datum.label == 'R' ? 'memory releasing cycle' : 'normal cycle'"}},
     "order": {"field": "i", "type": "quantitative"}}},
   {"data": {"values": [{"t": "c"}]}, "mark": {"type": "text", "fontSize": 34, "fontWeight": "bold", "align": "center", "baseline": "alphabetic", "color": "black"},
    "encoding": {
     "x": {"datum": -30.6, "type": "quantitative", "axis": {"orient": "bottom", "values": [10,30,50,70,90,110,130,150], "labels": false, "tickSize": -4, "title": null}},
     "y": {"datum": 3.927, "type": "quantitative", "axis": {"orient": "left", "values": [2.9,3.1,3.3,3.5,3.7,3.9], "labels": false, "tickSize": -4, "title": null}},
     "text": {"field": "t"}}}
  ]},
  {"width": 386, "height": 286, "resolve": {"axis": {"x": "independent", "y": "independent"}}, "layer": [
   {"data": {"name": "r2"}, "transform": [{"window": [{"op": "row_number", "as": "i"}]}], "mark": {"type": "line", "strokeWidth": 3, "clip": true},
    "encoding": {
     "x": {"field": "cap", "type": "quantitative", "scale": {"domain": [-5.5, 165.5], "nice": false, "zero": false}, "axis": {"orient": "bottom", "values": [0,20,40,60,80,100,120,140,160], "title": "Capacity / mAh g⁻¹"}},
     "y": {"field": "v", "type": "quantitative", "scale": {"domain": [3.435, 3.475], "nice": false, "zero": false}, "axis": {"orient": "left", "values": [3.44,3.45,3.46,3.47], "format": ".2f", "title": null}},
     "color": {"field": "cyc", "type": "nominal", "scale": {"domain": ["W","R","N"], "range": ["#000000","#ff0000","#00ff00"]}, "legend": null},
     "order": {"field": "i", "type": "quantitative"}}},
   {"data": {"values": [{"t": "d"}]}, "mark": {"type": "text", "fontSize": 34, "fontWeight": "bold", "align": "center", "baseline": "alphabetic", "color": "black"},
    "encoding": {
     "x": {"datum": -31.6, "type": "quantitative", "axis": {"orient": "bottom", "values": [10,30,50,70,90,110,130,150], "labels": false, "tickSize": -4, "title": null}},
     "y": {"datum": 3.47, "type": "quantitative", "axis": {"orient": "left", "values": [3.445,3.455,3.465], "labels": false, "tickSize": -4, "title": null}},
     "text": {"field": "t"}}},
   {"data": {"values": [{"t": "ΔU=1.7 mV"}]}, "mark": {"type": "text", "fontSize": 17.5, "fontWeight": "bold", "align": "left", "baseline": "middle", "color": "#9900ff"},
    "encoding": {"x": {"datum": 88.7, "type": "quantitative", "axis": null}, "y": {"datum": 3.4592, "type": "quantitative", "axis": null}, "text": {"field": "t"}}}
  ]}
 ], "spacing": 76, "bounds": "flush", "resolve": {"scale": {"color": "independent"}, "legend": {"color": "independent"}}},
 {"hconcat": [
  {"width": 385, "height": 286, "resolve": {"axis": {"x": "independent", "y": "independent"}}, "layer": [
   {"data": {"name": "r3"}, "transform": [{"window": [{"op": "row_number", "as": "i"}]}], "mark": {"type": "line", "strokeWidth": 3, "clip": true},
    "encoding": {
     "x": {"field": "cap", "type": "quantitative", "scale": {"domain": [-5, 165], "nice": false, "zero": false}, "axis": {"orient": "bottom", "values": [0,20,40,60,80,100,120,140,160], "title": "Capacity / mAh g⁻¹"}},
     "y": {"field": "v", "type": "quantitative", "scale": {"domain": [2.7, 4.1], "nice": false, "zero": false}, "axis": {"orient": "left", "values": [2.8,3.0,3.2,3.4,3.6,3.8,4.0], "format": ".1f", "title": "Voltage / V vs. Li⁺/Li"}},
     "color": {"field": "cyc", "type": "nominal", "scale": {"domain": ["W","R","N"], "range": ["#000000","#ff0000","#00ff00"]}, "legend": {"labelExpr": "datum.label == 'W' ? 'memory writing cycle' : datum.label == 'R' ? 'memory releasing cycle' : 'normal cycle'"}},
     "order": {"field": "i", "type": "quantitative"}}},
   {"data": {"values": [{"t": "e"}]}, "mark": {"type": "text", "fontSize": 34, "fontWeight": "bold", "align": "center", "baseline": "alphabetic", "color": "black"},
    "encoding": {
     "x": {"datum": -30.6, "type": "quantitative", "axis": {"orient": "bottom", "values": [10,30,50,70,90,110,130,150], "labels": false, "tickSize": -4, "title": null}},
     "y": {"datum": 3.925, "type": "quantitative", "axis": {"orient": "left", "values": [2.9,3.1,3.3,3.5,3.7,3.9], "labels": false, "tickSize": -4, "title": null}},
     "text": {"field": "t"}}}
  ]},
  {"width": 386, "height": 286, "resolve": {"axis": {"x": "independent", "y": "independent"}}, "layer": [
   {"data": {"name": "r3"}, "transform": [{"window": [{"op": "row_number", "as": "i"}]}], "mark": {"type": "line", "strokeWidth": 3, "clip": true},
    "encoding": {
     "x": {"field": "cap", "type": "quantitative", "scale": {"domain": [-5.5, 165.5], "nice": false, "zero": false}, "axis": {"orient": "bottom", "values": [0,20,40,60,80,100,120,140,160], "title": "Capacity / mAh g⁻¹"}},
     "y": {"field": "v", "type": "quantitative", "scale": {"domain": [3.435, 3.475], "nice": false, "zero": false}, "axis": {"orient": "left", "values": [3.44,3.45,3.46,3.47], "format": ".2f", "title": null}},
     "color": {"field": "cyc", "type": "nominal", "scale": {"domain": ["W","R","N"], "range": ["#000000","#ff0000","#00ff00"]}, "legend": null},
     "order": {"field": "i", "type": "quantitative"}}},
   {"data": {"values": [{"t": "f"}]}, "mark": {"type": "text", "fontSize": 34, "fontWeight": "bold", "align": "center", "baseline": "alphabetic", "color": "black"},
    "encoding": {
     "x": {"datum": -31.4, "type": "quantitative", "axis": {"orient": "bottom", "values": [10,30,50,70,90,110,130,150], "labels": false, "tickSize": -4, "title": null}},
     "y": {"datum": 3.4698, "type": "quantitative", "axis": {"orient": "left", "values": [3.445,3.455,3.465], "labels": false, "tickSize": -4, "title": null}},
     "text": {"field": "t"}}},
   {"data": {"values": [{"t": "ΔU=2.5 mV"}]}, "mark": {"type": "text", "fontSize": 17.5, "fontWeight": "bold", "align": "left", "baseline": "middle", "color": "#9900ff"},
    "encoding": {"x": {"datum": 84.5, "type": "quantitative", "axis": null}, "y": {"datum": 3.4521, "type": "quantitative", "axis": null}, "text": {"field": "t"}}}
  ]}
 ], "spacing": 76, "bounds": "flush", "resolve": {"scale": {"color": "independent"}, "legend": {"color": "independent"}}},
 {"hconcat": [
  {"width": 385, "height": 286, "resolve": {"axis": {"x": "independent", "y": "independent"}}, "layer": [
   {"data": {"name": "r4"}, "transform": [{"window": [{"op": "row_number", "as": "i"}]}], "mark": {"type": "line", "strokeWidth": 3, "clip": true},
    "encoding": {
     "x": {"field": "cap", "type": "quantitative", "scale": {"domain": [-5, 165], "nice": false, "zero": false}, "axis": {"orient": "bottom", "values": [0,20,40,60,80,100,120,140,160], "title": "Capacity / mAh g⁻¹"}},
     "y": {"field": "v", "type": "quantitative", "scale": {"domain": [2.7, 4.1], "nice": false, "zero": false}, "axis": {"orient": "left", "values": [2.8,3.0,3.2,3.4,3.6,3.8,4.0], "format": ".1f", "title": "Voltage / V vs. Li⁺/Li"}},
     "color": {"field": "cyc", "type": "nominal", "scale": {"domain": ["W","R","N"], "range": ["#000000","#ff0000","#00ff00"]}, "legend": {"labelExpr": "datum.label == 'W' ? 'memory writing cycle' : datum.label == 'R' ? 'memory releasing cycle' : 'normal cycle'"}},
     "order": {"field": "i", "type": "quantitative"}}},
   {"data": {"values": [{"t": "g"}]}, "mark": {"type": "text", "fontSize": 34, "fontWeight": "bold", "align": "center", "baseline": "alphabetic", "color": "black"},
    "encoding": {
     "x": {"datum": -30.6, "type": "quantitative", "axis": {"orient": "bottom", "values": [10,30,50,70,90,110,130,150], "labels": false, "tickSize": -4, "title": null}},
     "y": {"datum": 3.93, "type": "quantitative", "axis": {"orient": "left", "values": [2.9,3.1,3.3,3.5,3.7,3.9], "labels": false, "tickSize": -4, "title": null}},
     "text": {"field": "t"}}}
  ]},
  {"width": 386, "height": 286, "resolve": {"axis": {"x": "independent", "y": "independent"}}, "layer": [
   {"data": {"name": "r4"}, "transform": [{"window": [{"op": "row_number", "as": "i"}]}], "mark": {"type": "line", "strokeWidth": 3, "clip": true},
    "encoding": {
     "x": {"field": "cap", "type": "quantitative", "scale": {"domain": [-5.5, 165.5], "nice": false, "zero": false}, "axis": {"orient": "bottom", "values": [0,20,40,60,80,100,120,140,160], "title": "Capacity / mAh g⁻¹"}},
     "y": {"field": "v", "type": "quantitative", "scale": {"domain": [3.435, 3.475], "nice": false, "zero": false}, "axis": {"orient": "left", "values": [3.44,3.45,3.46,3.47], "format": ".2f", "title": null}},
     "color": {"field": "cyc", "type": "nominal", "scale": {"domain": ["W","R","N"], "range": ["#000000","#ff0000","#00ff00"]}, "legend": null},
     "order": {"field": "i", "type": "quantitative"}}},
   {"data": {"values": [{"t": "h"}]}, "mark": {"type": "text", "fontSize": 34, "fontWeight": "bold", "align": "center", "baseline": "alphabetic", "color": "black"},
    "encoding": {
     "x": {"datum": -29.6, "type": "quantitative", "axis": {"orient": "bottom", "values": [10,30,50,70,90,110,130,150], "labels": false, "tickSize": -4, "title": null}},
     "y": {"datum": 3.47, "type": "quantitative", "axis": {"orient": "left", "values": [3.445,3.455,3.465], "labels": false, "tickSize": -4, "title": null}},
     "text": {"field": "t"}}},
   {"data": {"values": [{"t": "ΔU=2.9 mV"}]}, "mark": {"type": "text", "fontSize": 17.5, "fontWeight": "bold", "align": "left", "baseline": "middle", "color": "#9900ff"},
    "encoding": {"x": {"datum": 80.8, "type": "quantitative", "axis": null}, "y": {"datum": 3.4522, "type": "quantitative", "axis": null}, "text": {"field": "t"}}}
  ]}
 ], "spacing": 76, "bounds": "flush", "resolve": {"scale": {"color": "independent"}, "legend": {"color": "independent"}}}
],
"spacing": 373.2,
"bounds": "flush",
"resolve": {"scale": {"color": "independent"}, "legend": {"color": "independent"}}
}
